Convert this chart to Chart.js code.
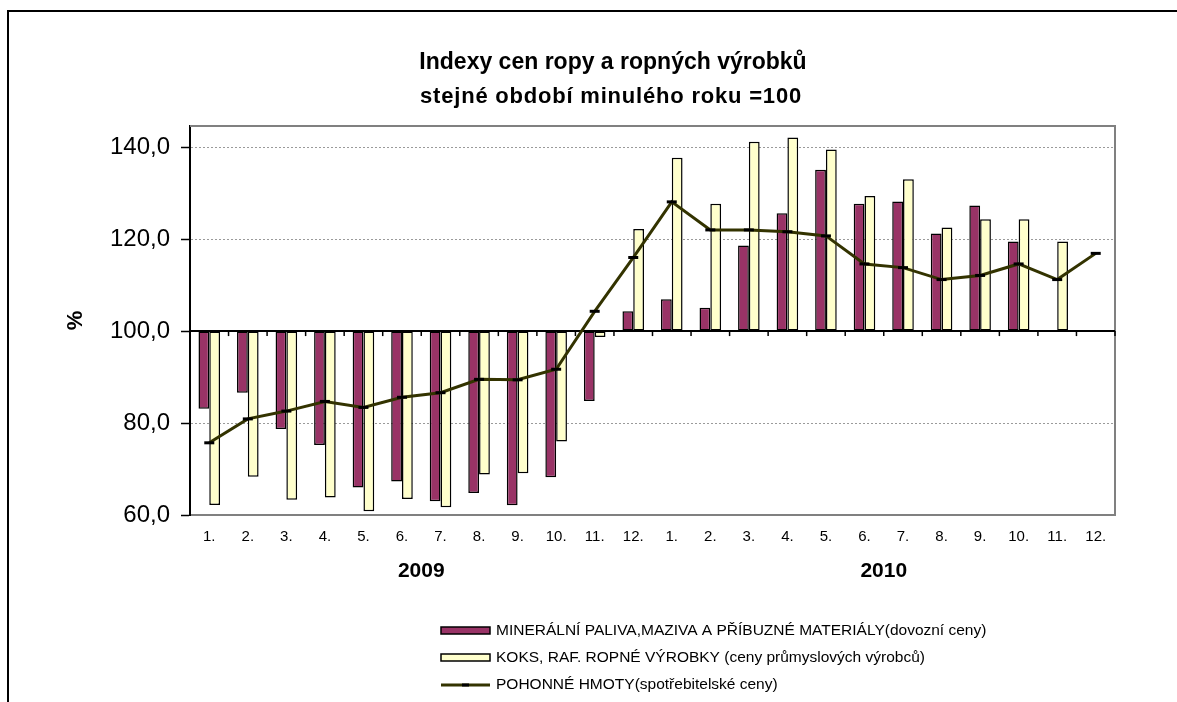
<!DOCTYPE html>
<html lang="cs">
<head>
<meta charset="utf-8">
<title>Indexy cen ropy a ropných výrobků</title>
<script src="https://cdn.jsdelivr.net/npm/chart.js@4.4.1/dist/chart.umd.min.js"></script>
<style>
  html, body { margin: 0; padding: 0; background: #fff; }
  #wrap { position: relative; width: 1177px; height: 702px; overflow: hidden; }
  #ramecek { position: absolute; left: 7px; top: 10px; right: -10px; bottom: -10px;
             border-left: 2px solid #000; border-top: 2px solid #000; pointer-events: none; }
  canvas { display: block; }
</style>
</head>
<body>
<div id="wrap">
  <canvas id="graf" width="1177" height="702"></canvas>
  <div id="ramecek"></div>
</div>
<script>
// data
var mesice = ['1.', '2.', '3.', '4.', '5.', '6.', '7.', '8.', '9.', '10.', '11.', '12.'];
var roky = ['2009', '2010'];
var yTicky = [60, 80, 100, 120, 140];

var mineralni = [83.1, 86.6, 78.7, 75.2, 66.0, 67.3, 63.0, 64.8, 62.1, 68.2, 84.8, 104.3,
                 106.9, 105.1, 118.6, 125.6, 135.1, 127.7, 128.2, 121.2, 127.3, 119.5, null, null];
var koks = [62.2, 68.3, 63.3, 63.8, 60.8, 63.5, 61.7, 68.8, 69.1, 76.0, 98.7, 122.2,
            137.7, 127.7, 141.2, 142.1, 139.5, 129.4, 133.0, 122.5, 124.3, 124.3, 119.5, null];
var pohonne = [75.7, 80.9, 82.6, 84.7, 83.4, 85.6, 86.6, 89.5, 89.4, 91.7, 104.3, 116.0,
               128.1, 122.0, 122.0, 121.6, 120.7, 114.6, 113.8, 111.2, 112.1, 114.6, 111.2, 116.9];

var nazvy = [
    'MINERÁLNÍ PALIVA,MAZIVA A PŘÍBUZNÉ MATERIÁLY(dovozní ceny)',
    'KOKS, RAF. ROPNÉ VÝROBKY (ceny průmyslových výrobců)',
    'POHONNÉ HMOTY(spotřebitelské ceny)'
];
var nadpis = 'Indexy cen ropy a ropných výrobků';
var podnadpis = 'stejné období minulého roku =100';

var popisky = [];
roky.forEach(function () {
    popisky = popisky.concat(mesice);
});

var pismo = 'Arial, "Liberation Sans", sans-serif';
Chart.defaults.font.family = pismo;
Chart.defaults.color = '#000';

// osa x prochazi hodnotou 100, ramecek grafu sedy
var osaSto = {
    id: 'osaSto',
    beforeDatasetsDraw: function (chart) {
        var ctx = chart.ctx;
        var area = chart.chartArea;
        var sx = chart.scales.x;
        var yy = chart.scales.y.getPixelForValue(100);
        var krok = sx.getPixelForValue(1) - sx.getPixelForValue(0);

        ctx.save();
        ctx.strokeStyle = '#808080';
        ctx.lineWidth = 2;
        ctx.beginPath();
        ctx.moveTo(area.left, area.top);
        ctx.lineTo(area.right, area.top);
        ctx.lineTo(area.right, area.bottom);
        ctx.stroke();

        ctx.strokeStyle = '#000';
        ctx.beginPath();
        ctx.moveTo(area.left, yy);
        ctx.lineTo(area.right, yy);
        ctx.stroke();

        ctx.lineWidth = 1.5;
        for (var i = 0; i < popisky.length; i++) {
            var hx = sx.getPixelForValue(i) + krok / 2;
            ctx.beginPath();
            ctx.moveTo(hx, yy);
            ctx.lineTo(hx, yy + 5);
            ctx.stroke();
        }
        ctx.restore();
    }
};

// nadpisy, roky pod mesici a legenda
var popiskyNavic = {
    id: 'popiskyNavic',
    afterDraw: function (chart) {
        var ctx = chart.ctx;
        var sx = chart.scales.x;
        var sady = chart.data.datasets;

        ctx.save();
        ctx.fillStyle = '#000';
        ctx.textAlign = 'center';
        ctx.textBaseline = 'alphabetic';
        ctx.font = 'bold 23px ' + pismo;
        ctx.fillText(nadpis, 613, 69);
        ctx.font = 'bold 22px ' + pismo;
        ctx.letterSpacing = '0.8px';
        ctx.fillText(podnadpis, 611, 103);
        ctx.letterSpacing = '0px';

        ctx.font = 'bold 21px ' + pismo;
        roky.forEach(function (rok, r) {
            var prvni = r * mesice.length;
            var posledni = prvni + mesice.length - 1;
            var cx = (sx.getPixelForValue(prvni) + sx.getPixelForValue(posledni)) / 2;
            ctx.fillText(rok, cx, 577);
        });

        // legenda
        var radky = [631, 658, 685];
        ctx.textAlign = 'left';
        ctx.textBaseline = 'middle';
        ctx.font = '15.5px ' + pismo;
        sady.forEach(function (ds, i) {
            var y = radky[i];
            if (ds.type === 'line') {
                ctx.strokeStyle = ds.borderColor;
                ctx.lineWidth = 3;
                ctx.beginPath();
                ctx.moveTo(441, y);
                ctx.lineTo(490, y);
                ctx.stroke();
                ctx.strokeStyle = ds.pointBorderColor;
                ctx.beginPath();
                ctx.moveTo(462, y);
                ctx.lineTo(469, y);
                ctx.stroke();
            } else {
                ctx.fillStyle = ds.backgroundColor;
                ctx.fillRect(441, y - 4, 49, 7);
                ctx.strokeStyle = '#000';
                ctx.lineWidth = 1.5;
                ctx.strokeRect(441, y - 4, 49, 7);
            }
            ctx.fillStyle = '#000';
            ctx.fillText(ds.label, 496, y);
        });
        ctx.restore();
    }
};

new Chart(document.getElementById('graf'), {
    type: 'bar',
    data: {
        labels: popisky,
        datasets: [{
            label: nazvy[0],
            data: mineralni,
            backgroundColor: '#993366',
            borderColor: '#000',
            borderWidth: 1.5,
            borderSkipped: false,
            base: 100,
            categoryPercentage: 0.56,
            barPercentage: 1,
            order: 1
        }, {
            label: nazvy[1],
            data: koks,
            backgroundColor: '#ffffcc',
            borderColor: '#000',
            borderWidth: 1.5,
            borderSkipped: false,
            base: 100,
            categoryPercentage: 0.56,
            barPercentage: 1,
            order: 1
        }, {
            type: 'line',
            label: nazvy[2],
            data: pohonne,
            borderColor: '#333300',
            borderWidth: 3,
            tension: 0,
            pointStyle: 'line',
            pointRadius: 5,
            pointBorderWidth: 3,
            pointBorderColor: '#000',
            pointBackgroundColor: '#000',
            order: 0
        }]
    },
    options: {
        responsive: false,
        animation: false,
        devicePixelRatio: 1,
        layout: {
            padding: { left: 55, right: 62, top: 126, bottom: 0 }
        },
        plugins: {
            legend: { display: false },
            tooltip: { enabled: false },
            title: { display: false }
        },
        scales: {
            x: {
                grid: { display: false },
                border: { display: true, color: '#808080', width: 2 },
                ticks: {
                    font: { size: 15 },
                    padding: 5,
                    maxRotation: 0,
                    autoSkip: false
                },
                afterFit: function (osa) {
                    osa.height = 187;
                }
            },
            y: {
                min: 60,
                max: 144.6,
                afterBuildTicks: function (osa) {
                    osa.ticks = yTicky.map(function (v) {
                        return { value: v };
                    });
                },
                ticks: {
                    font: { size: 24 },
                    padding: 11,
                    callback: function (v) {
                        return v.toFixed(1).replace('.', ',');
                    }
                },
                grid: {
                    color: function (c) {
                        var v = c.tick ? c.tick.value : null;
                        return (v === 100 || v === 60) ? 'rgba(0,0,0,0)' : '#9a9a9a';
                    },
                    lineWidth: 1,
                    tickLength: 9,
                    tickColor: '#000',
                    tickWidth: 1.5
                },
                border: { display: true, color: '#000', width: 2, dash: [2, 2] },
                title: {
                    display: true,
                    text: '%',
                    font: { size: 22, weight: 'bold' },
                    padding: { top: 8, bottom: 0 }
                },
                afterFit: function (osa) {
                    osa.width = 135;
                }
            }
        }
    },
    plugins: [osaSto, popiskyNavic]
});
</script>
</body>
</html>
